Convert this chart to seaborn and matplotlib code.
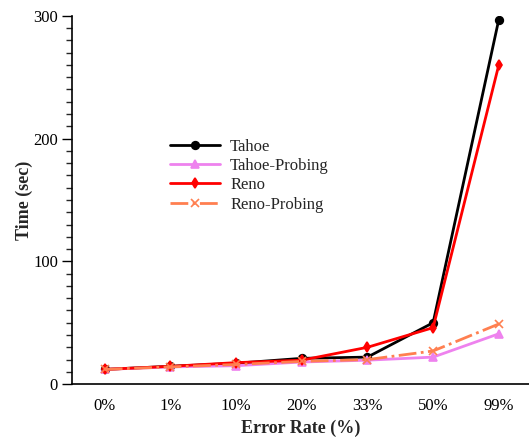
import matplotlib
matplotlib.use("Agg")
import matplotlib.pyplot as plt
import seaborn as sns
import pandas as pd
from matplotlib.ticker import MultipleLocator

categories = ["0%", "1%", "10%", "20%", "33%", "50%", "99%"]
tahoe = [12, 14.5, 17, 21, 22, 50, 297]
tahoe_probing = [12, 14, 15, 18, 19.5, 22, 41]
reno = [12, 14.5, 17.5, 19.5, 30, 46, 260]
reno_probing = [12, 14, 16, 18.5, 20, 27, 49]

sns.set_style("ticks")
plt.rcParams['font.family'] = ['Liberation Serif', 'DejaVu Serif']

fig = plt.figure(figsize=(5.29, 4.4), dpi=100)
ax = fig.add_axes([0.136, 0.127, 0.864, 0.837])

idx = list(range(len(categories)))
series = [
    ("Tahoe", tahoe, "black", "o", "-", 5.5),
    ("Tahoe-Probing", tahoe_probing, "violet", "^", "-", 5.5),
    ("Reno", reno, "red", "d", "-", 5),
    ("Reno-Probing", reno_probing, "#FF7F50", "x", "-.", 6),
]
for name, vals, col, mk, ls, ms in series:
    df = pd.DataFrame({"x": idx, "y": vals})
    sns.lineplot(data=df, x="x", y="y", ax=ax, color=col, marker=mk, linestyle=ls,
                 linewidth=2, markersize=ms, markeredgecolor=col, markeredgewidth=1.2,
                 label=name)

ax.set_xlim(-0.5, 6.46)
ax.set_ylim(0, 300)
ax.set_xticks(idx)
ax.set_xticklabels(categories)
ax.yaxis.set_major_locator(MultipleLocator(100))
ax.yaxis.set_minor_locator(MultipleLocator(10))
ax.tick_params(axis='both', which='major', length=7, width=1, labelsize=12, colors='black')
ax.tick_params(axis='y', which='major', pad=3)
ax.tick_params(axis='y', which='minor', length=4, width=1)
ax.tick_params(axis='x', which='major', length=0, pad=10)
for s in ["top", "right"]:
    ax.spines[s].set_visible(False)
for s in ["left", "bottom"]:
    ax.spines[s].set_linewidth(1.2)
    ax.spines[s].set_color("black")

ax.set_xlabel("Error Rate (%)", fontsize=13, fontweight="bold", labelpad=4)
ax.set_ylabel("Time (sec)", fontsize=13, fontweight="bold", labelpad=0)

leg = ax.legend(loc="upper left", bbox_to_anchor=(0.2, 0.685), frameon=False, fontsize=12,
                handlelength=3.0, labelspacing=0.2, borderaxespad=0, handletextpad=0.6)

fig.savefig("out.png", dpi=100)
